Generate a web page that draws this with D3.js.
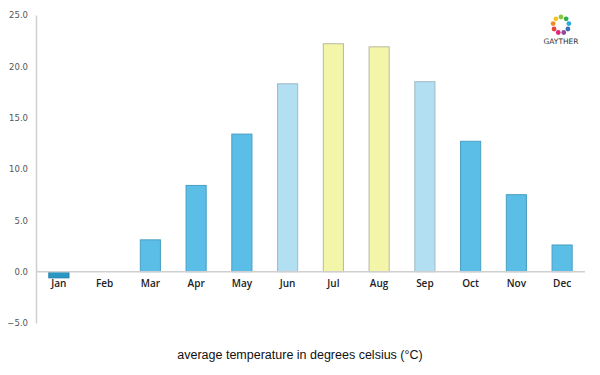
<!DOCTYPE html>
<html>
<head>
<meta charset="utf-8">
<script src="https://cdn.jsdelivr.net/npm/d3@7"></script>
<style>
  body { margin: 0; background: #fff; }
  svg { display: block; }
</style>
</head>
<body>
<div id="container"></div>
<script>
/* DATA */
const months = ["Jan", "Feb", "Mar", "Apr", "May", "Jun", "Jul", "Aug", "Sep", "Oct", "Nov", "Dec"];
const temps = [-0.6, 0, 3.1, 8.4, 13.4, 18.3, 22.2, 21.9, 18.5, 12.7, 7.5, 2.6];
const season = ["freeze", "cold", "cold", "cold", "cold", "mild", "warm", "warm", "mild", "cold", "cold", "cold"];
const yTicks = [-5, 0, 5, 10, 15, 20, 25];
const logoColors = ["#8cc63f", "#2fae4f", "#27aae1", "#3b6fb6", "#8e4b9c", "#e2237b", "#e8433b", "#f08a24", "#f6c21c"];

/* CONSTANTS */
const width = 600, height = 375,
  margin = { top: 15, bottom: 52, left: 36, right: 15 };

const svg = d3.select("#container")
  .append("svg")
  .attr("width", width)
  .attr("height", height);

/* SCALES */
const xScale = d3.scaleBand()
  .domain(months)
  .range([margin.left, width - margin.right])
  .paddingInner(0.56)
  .paddingOuter(0.28);

const yScale = d3.scaleLinear()
  .domain([-5, 25])
  .range([height - margin.bottom, margin.top]);

const colorScale = d3.scaleOrdinal()
  .domain(["freeze", "cold", "mild", "warm"])
  .range(["#2a98c4", "#5bbee7", "#b2dff1", "#f3f5a9"]);

const strokeScale = d3.scaleOrdinal()
  .domain(["freeze", "cold", "mild", "warm"])
  .range(["#1f7fa6", "#4a9fc2", "#9fb9c4", "#b8b8a0"]);

// y axis
const yAxis = d3.axisLeft(yScale)
  .tickValues(yTicks)
  .tickFormat(d3.format(".1f"))
  .tickSize(0)
  .tickPadding(8);

const gy = svg.append("g")
  .attr("transform", `translate(${margin.left},0)`)
  .call(yAxis);
gy.select(".domain").attr("stroke", "#cfcfcf").attr("stroke-width", 1.5);
gy.selectAll("text")
  .attr("fill", "#555")
  .style("font-family", "'DejaVu Sans', sans-serif")
  .style("font-size", "8.5px");

// bars
svg.selectAll("rect.bar")
  .data(months)
  .join("rect")
  .attr("class", "bar")
  .attr("x", d => xScale(d))
  .attr("width", xScale.bandwidth())
  .attr("y", (d, i) => yScale(Math.max(0, temps[i])))
  .attr("height", (d, i) => Math.abs(yScale(temps[i]) - yScale(0)))
  .attr("fill", (d, i) => colorScale(season[i]))
  .attr("stroke", (d, i) => strokeScale(season[i]))
  .attr("stroke-width", 1);

// zero line
svg.append("line")
  .attr("x1", margin.left)
  .attr("x2", width - margin.right)
  .attr("y1", yScale(0))
  .attr("y2", yScale(0))
  .attr("stroke", "#cfcfcf")
  .attr("stroke-width", 1.5);

// month labels
svg.selectAll("text.month")
  .data(months)
  .join("text")
  .attr("class", "month")
  .attr("x", d => xScale(d) + xScale.bandwidth() / 2)
  .attr("y", yScale(0) + 15)
  .attr("text-anchor", "middle")
  .attr("fill", "#222")
  .style("font-family", "'Open Sans', sans-serif")
  .style("font-size", "10px")
  .style("font-weight", "600")
  .text(d => d);

// title
svg.append("text")
  .attr("x", width / 2)
  .attr("y", 359)
  .attr("text-anchor", "middle")
  .attr("fill", "#111")
  .style("font-family", "'Liberation Sans', Arial, sans-serif")
  .style("font-size", "12.5px")
  .text("average temperature in degrees celsius (°C)");

// logo
const logo = svg.append("g").attr("transform", "translate(561,25)");
logo.selectAll("circle")
  .data(logoColors)
  .join("circle")
  .attr("cx", (d, i) => 8 * Math.cos(i / logoColors.length * 2 * Math.PI - Math.PI / 2))
  .attr("cy", (d, i) => 8 * Math.sin(i / logoColors.length * 2 * Math.PI - Math.PI / 2))
  .attr("r", 2.4)
  .attr("fill", d => d);
logo.append("text")
  .attr("y", 19)
  .attr("text-anchor", "middle")
  .attr("fill", "#333")
  .style("font-family", "'DejaVu Sans', sans-serif")
  .style("font-size", "7.5px")
  .text("GAYTHER");
</script>
</body>
</html>
